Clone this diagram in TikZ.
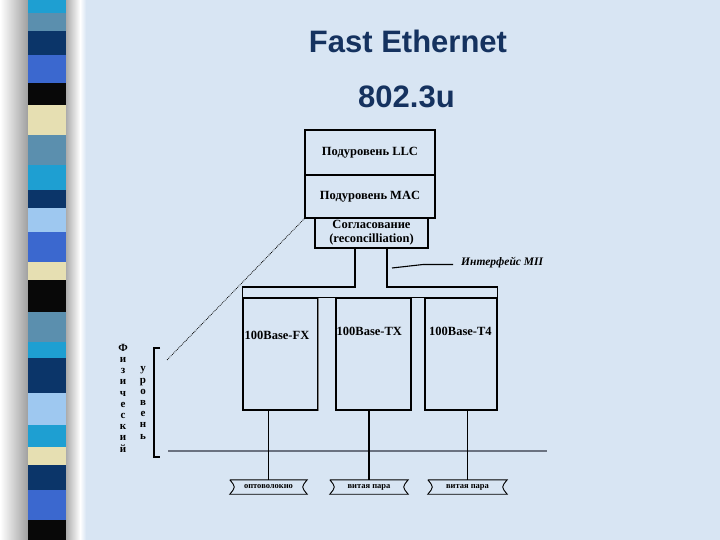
\documentclass[tikz,border=0pt]{standalone}
\usepackage{fontspec}
\setmainfont{Liberation Serif}
\newfontfamily\titlefont{Liberation Sans}
\usetikzlibrary{calc}
\definecolor{bgblue}{HTML}{D8E5F3}
\definecolor{titlecol}{HTML}{15325F}
\definecolor{stcyan}{HTML}{1E9FD2}
\definecolor{ststeel}{HTML}{5B8FAE}
\definecolor{stnavy}{HTML}{0B3569}
\definecolor{stroyal}{HTML}{3B68CF}
\definecolor{stblack}{HTML}{080808}
\definecolor{stbeige}{HTML}{E6DFB2}
\definecolor{stlight}{HTML}{9EC8F0}
\definecolor{busgray}{HTML}{6B7280}
\tikzset{
  box/.style={draw=black, line width=1.2pt, inner sep=0pt},
  boxtext/.style={font=\bfseries\fontsize{12.5}{14}\selectfont, inner sep=0pt},
  cable/.style={inner sep=0pt, font=\bfseries\fontsize{8.5}{10}\selectfont},
  vlet/.style={align=center, inner sep=0pt, font=\bfseries\fontsize{11}{11.2}\selectfont},
  wire/.style={draw=black, line width=1.2pt},
  titletext/.style={font=\titlefont\bfseries\fontsize{31}{36}\selectfont, text=titlecol, inner sep=0pt}
}
\begin{document}
\begin{tikzpicture}[x=1pt,y=-1pt]
\useasboundingbox (0,0) rectangle (720,540);
% background
\fill[bgblue] (0,0) rectangle (720,540);
\fill[white] (0,0) rectangle (85,540);
\shade[left color=white, right color=gray!75] (0,0) rectangle (28,540);
\foreach \a/\b/\c in {0/13/stcyan,13/31/ststeel,31/55/stnavy,55/83/stroyal,83/105/stblack,105/135/stbeige,135/165/ststeel,165/190/stcyan,190/208/stnavy,208/232/stlight,232/262/stroyal,262/280/stbeige,280/312/stblack,312/342/ststeel,342/358/stcyan,358/393/stnavy,393/425/stlight,425/447/stcyan,447/465/stbeige,465/490/stnavy,490/520/stroyal,520/540/stblack}
  \fill[\c] (28,\a) rectangle (66,\b);
\shade[left color=gray!65, right color=white] (66,0) rectangle (80,540);
\shade[left color=white, right color=bgblue] (80,0) rectangle (86,540);

% title
\node[titletext, anchor=base] (t1) at (408,53) {Fast Ethernet};
\node[titletext, anchor=base] (t2) at (406.5,108) {802.3u};

% upper boxes
\node[box, boxtext, minimum width=130pt, minimum height=45pt] (llc) at (370,152.5) {Подуровень LLC};
\node[box, boxtext, minimum width=130pt, minimum height=43pt] (mac) at (370,196.5) {Подуровень MAC};
\node[box, boxtext, align=center, minimum width=113pt, minimum height=30pt] (rec) at (371.5,233) {Согласование\\(reconcilliation)};

% physical boxes
\node[box, minimum width=75pt, minimum height=112pt] (fx) at (280.5,354) {};
\node[box, minimum width=75pt, minimum height=112pt] (tx) at (373.5,354) {};
\node[box, minimum width=72pt, minimum height=112pt] (t4) at (461,354) {};
\draw[draw=bgblue, line width=1.3pt] ($(fx.north east)+(0,1)$) -- ($(fx.south east)+(0,-1)$);
\draw[draw=gray, line width=1.1pt] (fx.north east) -- (fx.south east);

\node[boxtext, anchor=west] (fxt) at (244.5,335) {100Base-FX};
\node[boxtext, anchor=west] (txt) at (336.5,331) {100Base-TX};
\node[boxtext, anchor=west] (t4t) at (429,331) {100Base-T4};

% MII channel and top strip
\coordinate (ml) at (355,287);
\coordinate (mr) at (387,287);
\draw[wire] (fx.north west) -- (t4.north east);
\draw[wire] (fx.north west) |- (ml) -- (ml |- rec.south);
\draw[wire] (t4.north east) |- (mr) -- (mr |- rec.south);

% MII label
\node[anchor=west, inner sep=0pt, font=\bfseries\itshape\fontsize{11.5}{13}\selectfont] (mii) at (461,263) {Интерфейс MII};
\coordinate (miip) at (392,268);
\coordinate (miie) at (453,264.5);
\draw[line width=1.1pt] (miip) -- (423,264.5) -- (miie);

% bus line
\coordinate (busl) at (168,451);
\coordinate (busr) at (547,451);
\draw[busgray, line width=2pt] (busl) -- (busr);

% cable labels
\node[cable, minimum width=77pt, minimum height=14pt] (c1) at (268.5,487) {оптоволокно};
\node[cable, minimum width=78pt, minimum height=14pt] (c2) at (369,487) {витая пара};
\node[cable, minimum width=79pt, minimum height=14pt] (c3) at (467.5,487) {витая пара};
\foreach \n in {c1,c2,c3}
  \draw[line width=0.9pt] (\n.north west) -- (\n.north east)
     .. controls ($(\n.east)+(-6,0)$) .. (\n.south east) -- (\n.south west)
     .. controls ($(\n.west)+(6,0)$) .. (\n.north west);
\draw[wire] (c1.north) -- (c1.north |- fx.south);
\draw[wire] (c2.north) -- (c2.north |- tx.south);
\draw[wire] (c3.north) -- (c3.north |- t4.south);

% dotted line and bracket
\coordinate (dotend) at (167,360);
\draw[densely dotted, line width=0.8pt, black] (mac.south west) -- (dotend);
\coordinate (brt) at (160,348);
\coordinate (brb) at (160,457);
\draw[line width=1.1pt] (brt) -- ++(-6,0) |- (brb);

% vertical words
\node[vlet] (fiz) at (123,398) {Ф\\и\\з\\и\\ч\\е\\с\\к\\и\\й};
\node[vlet] (urov) at (143,403) {у\\р\\о\\в\\е\\н\\ь};
\end{tikzpicture}
\end{document}
